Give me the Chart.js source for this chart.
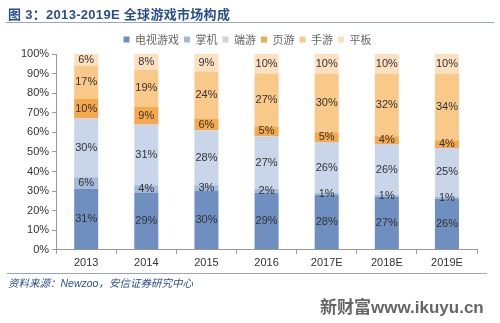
<!DOCTYPE html>
<html>
<head>
<meta charset="utf-8">
<script src="https://cdn.jsdelivr.net/npm/chart.js@4/dist/chart.umd.min.js"></script>
<style>
  html, body { margin: 0; padding: 0; background: #fff; }
  #wrap { position: relative; width: 500px; height: 323px; overflow: hidden; }
  #chart { position: absolute; left: 0; top: 0; }
  .title {
    position: absolute; left: 8px; top: 4px;
    font: bold 13px "Liberation Sans", "Noto Sans CJK SC", sans-serif;
    color: #2b4f8c; white-space: nowrap; letter-spacing: 0.3px;
  }
  .title-line { position: absolute; left: 6px; top: 22px; width: 488px; height: 1px; background: #9aa6bf; }
  .foot-line { position: absolute; left: 7px; top: 273px; width: 480px; height: 1px; background: #9aa6bf; }
  .source {
    position: absolute; left: 8px; top: 275px;
    font: italic 10.5px "Liberation Sans", "Noto Sans CJK SC", sans-serif;
    color: #2b4f8c; white-space: nowrap;
  }
  .mark {
    position: absolute; left: 320px; top: 293px;
    font: bold 17px "Liberation Sans", "Noto Sans CJK SC", sans-serif;
    color: #666; white-space: nowrap;
  }
</style>
</head>
<body>
<div id="wrap">
  <canvas id="chart" width="500" height="323"></canvas>
  <div class="title">图 3：2013-2019E 全球游戏市场构成</div>
  <div class="title-line"></div>
  <div class="foot-line"></div>
  <div class="source">资料来源：Newzoo，安信证券研究中心</div>
  <div class="mark">新财富www.ikuyu.cn</div>
</div>
<script>
const years = ["2013", "2014", "2015", "2016", "2017E", "2018E", "2019E"];
const seriesNames = ["电视游戏", "掌机", "端游", "页游", "手游", "平板"];
const tvGames = [31, 29, 30, 29, 28, 27, 26];
const handheld = [6, 4, 3, 2, 1, 1, 1];
const pcGames = [30, 31, 28, 27, 26, 26, 25];
const webGames = [10, 9, 6, 5, 5, 4, 4];
const mobileGames = [17, 19, 24, 27, 30, 32, 34];
const tablet = [6, 8, 9, 10, 10, 10, 10];
const colors = ["#6e8fc0", "#a5b9d9", "#c9d6ea", "#f6a94a", "#f9c98a", "#fce0c0"];

const values = [tvGames, handheld, pcGames, webGames, mobileGames, tablet];

// labels in the middle of each segment
const barLabels = {
  id: "barLabels",
  afterDatasetsDraw(chart) {
    const ctx = chart.ctx;
    ctx.save();
    ctx.font = "11px 'Liberation Sans', Arial, sans-serif";
    ctx.fillStyle = "#333";
    ctx.textAlign = "center";
    ctx.textBaseline = "middle";
    chart.data.datasets.forEach((ds, i) => {
      chart.getDatasetMeta(i).data.forEach((bar, j) => {
        const mid = (bar.y + bar.base) / 2;
        ctx.fillText(ds.data[j] + "%", bar.x, mid);
      });
    });
    ctx.restore();
  },
};

// tighten the space under the legend
const legendGap = {
  id: "legendGap",
  beforeInit(chart) {
    const fit = chart.legend.fit;
    chart.legend.fit = function () {
      fit.call(this);
      this.height -= 1;
    };
  },
};

new Chart(document.getElementById("chart"), {
  type: "bar",
  data: {
    labels: years,
    datasets: seriesNames.map((name, i) => ({
      label: name,
      data: values[i],
      backgroundColor: colors[i],
      categoryPercentage: 1,
      barPercentage: 0.4,
    })),
  },
  options: {
    responsive: false,
    animation: false,
    layout: { padding: { left: 18, right: 23, top: 29, bottom: 50 } },
    plugins: {
      legend: {
        position: "top",
        labels: {
          boxWidth: 6,
          boxHeight: 6,
          padding: 5,
          color: "#666",
          font: { size: 11, family: "'Noto Sans CJK SC', sans-serif" },
        },
      },
      tooltip: { enabled: false },
    },
    scales: {
      x: {
        stacked: true,
        grid: { drawOnChartArea: false, tickLength: 4, color: "#999" },
        border: { color: "#999" },
        ticks: { color: "#333", font: { size: 11, family: "'Liberation Sans', Arial" } },
      },
      y: {
        stacked: true,
        min: 0,
        max: 100,
        grid: { drawOnChartArea: false, tickLength: 4, color: "#999" },
        border: { color: "#999" },
        ticks: {
          stepSize: 10,
          color: "#333",
          font: { size: 11, family: "'Liberation Sans', Arial" },
          callback: (v) => v + "%",
        },
      },
    },
  },
  plugins: [barLabels, legendGap],
});
</script>
</body>
</html>
